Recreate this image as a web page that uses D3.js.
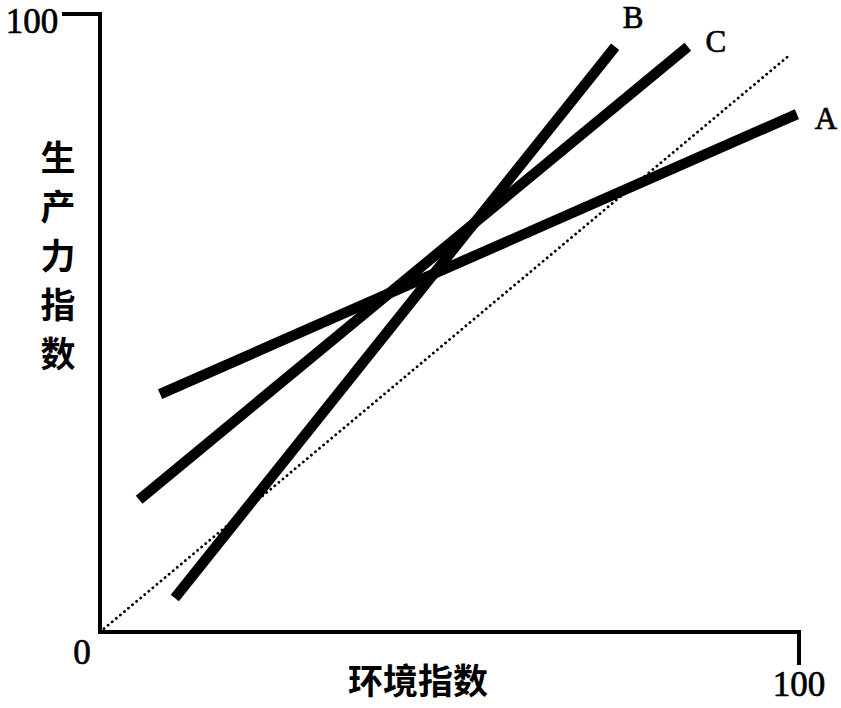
<!DOCTYPE html>
<html>
<head>
<meta charset="utf-8">
<script src="https://cdn.jsdelivr.net/npm/d3@7"></script>
<style>
  html, body { margin: 0; padding: 0; background: #fff; }
  svg { display: block; }
</style>
</head>
<body>
<svg id="chart" width="841" height="708"></svg>
<script>
// ---- data ----
const seriesNames = ["A", "B", "C"];
const seriesStart = [[8.6, 38.5], [10.7, 5.5], [5.6, 21.4]];
const seriesEnd   = [[99.7, 83.8], [73.7, 94.7], [84.1, 94.7]];
const refLine = [[0, 0], [98.7, 93.4]];
const axisMin = 0, axisMax = 100;
const originLabel = "0";
const xMaxLabel = "100";
const yMaxLabel = "100";
const xTitle = "环境指数";
const yTitle = ["生", "产", "力", "指", "数"];

// ---- layout ----
const svg = d3.select("#chart");
const x = d3.scaleLinear().domain([axisMin, axisMax]).range([100, 799]);
const y = d3.scaleLinear().domain([axisMin, axisMax]).range([632, 14]);
const serif = "'Liberation Serif', 'DejaVu Serif', serif";
const cjk = "'Noto Sans CJK SC', sans-serif";

const line = d3.line().x(d => x(d[0])).y(d => y(d[1]));

// axes (L-shape with end ticks)
svg.append("path")
  .attr("d", `M${x(0) - 38},${y(100)} H${x(0)} V${y(0)} H${x(100)} V${y(0) + 33}`)
  .attr("fill", "none").attr("stroke", "#000").attr("stroke-width", 4)
  .attr("stroke-linejoin", "miter");

// dotted reference line
svg.append("path")
  .attr("d", line(refLine))
  .attr("fill", "none").attr("stroke", "#000").attr("stroke-width", 2.8)
  .attr("stroke-dasharray", "0.1,5.2").attr("stroke-linecap", "round");

// thick series lines
seriesNames.forEach((n, i) => {
  svg.append("path")
    .attr("d", line([seriesStart[i], seriesEnd[i]]))
    .attr("fill", "none").attr("stroke", "#000").attr("stroke-width", 10.5)
    .attr("stroke-linecap", "butt");
});

function serifText(sel) {
  return sel.attr("font-family", serif).attr("fill", "#000")
    .attr("stroke", "#000").attr("stroke-width", 0.7);
}

// series labels
const labelOffsets = { A: [29, 8], B: [18, -26], C: [28, -2] };
seriesNames.forEach((n, i) => {
  const e = seriesEnd[i];
  serifText(svg.append("text"))
    .attr("x", x(e[0]) + labelOffsets[n][0])
    .attr("y", y(e[1]) + labelOffsets[n][1])
    .attr("text-anchor", "middle").attr("dominant-baseline", "middle")
    .attr("font-size", 31)
    .text(n);
});

// tick labels
serifText(svg.append("text")).attr("x", x(0) - 18).attr("y", y(0) + 32)
  .attr("text-anchor", "middle").attr("font-size", 35)
  .text(originLabel);
serifText(svg.append("text")).attr("x", x(100)).attr("y", y(0) + 64)
  .attr("text-anchor", "middle").attr("font-size", 35)
  .text(xMaxLabel);
serifText(svg.append("text")).attr("x", 32).attr("y", y(100) + 19)
  .attr("text-anchor", "middle").attr("font-size", 35)
  .text(yMaxLabel);

// axis titles
svg.append("text").attr("x", 418).attr("y", 694)
  .attr("text-anchor", "middle").attr("font-family", cjk).attr("font-size", 35)
  .attr("font-weight", 700)
  .text(xTitle);
yTitle.forEach((c, i) => {
  svg.append("text").attr("x", 58).attr("y", 171 + i * 49)
    .attr("text-anchor", "middle").attr("font-family", cjk).attr("font-size", 35)
    .attr("font-weight", 700)
    .text(c);
});
</script>
</body>
</html>
